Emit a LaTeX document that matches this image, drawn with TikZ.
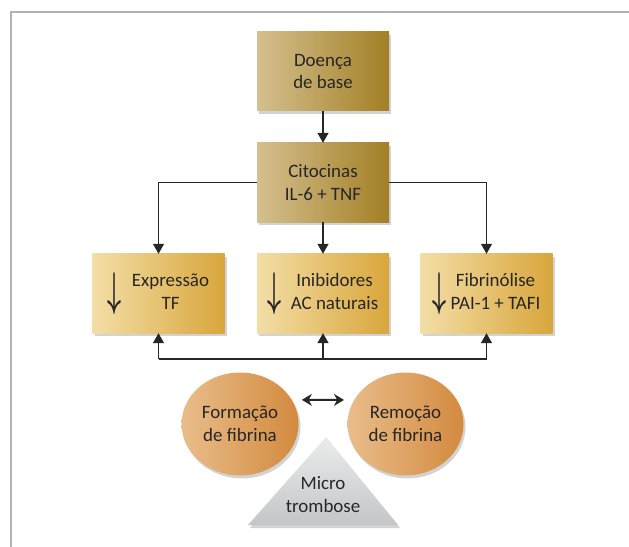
\documentclass[tikz,border=0pt]{standalone}
\usepackage{fontspec}
\usepackage{graphicx}
\setmainfont{Carlito}
\usetikzlibrary{shapes.geometric,shadows,arrows.meta}

\definecolor{olivaclaro}{HTML}{D4BF8E}
\definecolor{oliva}{HTML}{A38026}
\definecolor{ouroclaro}{HTML}{F3DEA6}
\definecolor{ouro}{HTML}{D9A63C}
\definecolor{laranjaclaro}{HTML}{E9BD8B}
\definecolor{laranja}{HTML}{D38A3E}
\definecolor{cinzaclaro}{HTML}{EBEBEB}
\definecolor{cinza}{HTML}{C3C6C9}
\definecolor{texto}{HTML}{262626}

% seta comprida dentro das caixas
\newcommand{\setabaixo}{\raisebox{-8bp}{\resizebox*{14bp}{42bp}{\boldmath$\downarrow$}}}

\tikzset{
	sombra/.style={drop shadow={shadow xshift=2bp,shadow yshift=-3bp,opacity=.35}},
	caixa/.style={sombra,minimum width=132bp,minimum height=79bp,inner sep=2bp,align=center,
		text=texto,font=\fontsize{19}{23}\selectfont},
	topbox/.style={caixa,left color=olivaclaro,right color=oliva},
	midbox/.style={caixa,left color=ouroclaro,right color=ouro},
	bola/.style={sombra,ellipse,minimum width=116bp,minimum height=103bp,align=center,
		left color=laranjaclaro,right color=laranja,text=texto,font=\fontsize{19}{23}\selectfont},
	seta/.style={line width=1.2bp,draw=texto,-{Triangle[length=10bp,width=11bp]}},
	linha/.style={line width=1.2bp,draw=texto},
	moldura/.style={line width=1.5bp,draw=black!30}
}

\begin{document}
\begin{tikzpicture}[x=1bp,y=-1bp]
	\useasboundingbox (0,0) rectangle (629,547);
	% moldura aberta
	\draw[moldura] (11,547) -- (11,12) -- (629,12);

	\node[topbox] (doenca) at (323,71.5) {Doença\\de base};
	\node[topbox] (citocinas) at (323,182.5) {Citocinas\\IL-6 + TNF};

	\node[midbox] (expressao) at (158.5,293.5)
		{\setabaixo\hspace{10bp}\begin{tabular}{@{}c@{}}Expressão\\TF\end{tabular}};
	\node[midbox] (inibidores) at (323,293.5)
		{\setabaixo\hspace{9bp}\begin{tabular}{@{}c@{}}Inibidores\\AC naturais\end{tabular}};
	\node[midbox] (fibrinolise) at (486.5,293.5)
		{\setabaixo\hspace{4bp}\begin{tabular}{@{}c@{}}Fibrinólise\\PAI-1 + TAFI\end{tabular}};

	\coordinate (barra) at (323,359);

	\draw[seta] (doenca) -- (citocinas);
	\draw[seta] (citocinas) -- (inibidores);
	\draw[seta] (citocinas.west) -| (expressao.north);
	\draw[seta] (citocinas.east) -| (fibrinolise.north);
	\draw[linha] (barra -| expressao.south) -- (barra -| fibrinolise.south);
	\foreach \n in {expressao,inibidores,fibrinolise}
		\draw[seta] (barra -| \n.south) -- (\n.south);

	\node[bola] (formacao) at (240,424) {Formação\\de fibrina};
	\node[bola] (remocao) at (405.5,424) {Remoção\\de fibrina};
	\draw[line width=2bp,draw=texto,{Stealth[length=10bp,width=12bp]}-{Stealth[length=10bp,width=12bp]},
		shorten <=10bp,shorten >=10bp] (formacao.25) -- (remocao.155);

	% triangulo
	\path[sombra,top color=cinzaclaro,bottom color=cinza]
		(248,525) -- (326,437) -- (398,525) -- cycle;
	\node[align=center,text=texto,font=\fontsize{19}{23}\selectfont] (micro) at (323,495) {Micro\\trombose};
\end{tikzpicture}
\end{document}
